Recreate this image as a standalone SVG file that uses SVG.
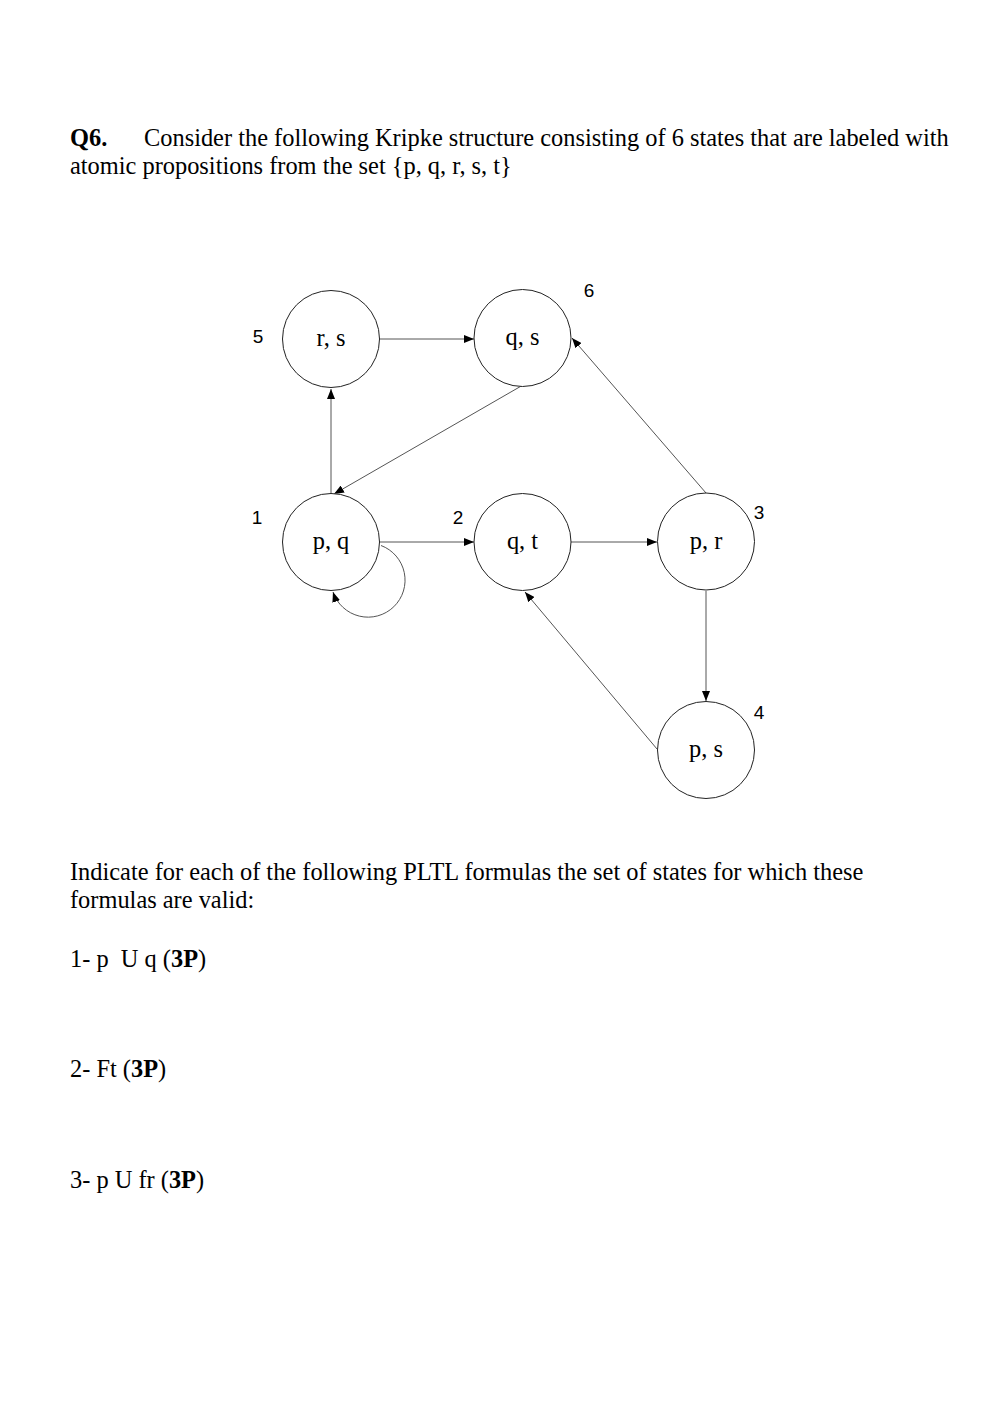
<svg xmlns="http://www.w3.org/2000/svg" width="994" height="1428" viewBox="0 0 994 1428">
<style>
.t{font-family:"Liberation Serif","Times New Roman",serif;font-size:24.4px;fill:#000}
.b{font-weight:bold}
.n{fill:#fff;stroke:#222;stroke-width:1}
.nl{font-family:"Liberation Serif","Times New Roman",serif;font-size:24.4px;fill:#000;text-anchor:middle}
.id{font-family:"Liberation Sans",Arial,sans-serif;font-size:19px;fill:#000;text-anchor:middle}
.e{fill:none;stroke:#555;stroke-width:1;marker-end:url(#ah)}
</style>
<defs>
<marker id="ah" viewBox="0 0 10 8" refX="10" refY="4" markerWidth="10" markerHeight="8" markerUnits="userSpaceOnUse" orient="auto">
<path d="M0,0 L10,4 L0,8 Z" fill="#000"/>
</marker>
</defs>
<rect width="994" height="1428" fill="#fff"/>
<g id="title">
<text class="t" x="70" y="146"><tspan class="b">Q6.</tspan><tspan x="144">Consider the following Kripke structure consisting of 6 states that are labeled with</tspan></text>
<text class="t" x="70" y="174">atomic propositions from the set {p, q, r, s, t}</text>
</g>
<g id="connectors">
<line class="e" x1="380" y1="339" x2="474" y2="339"/>
<line class="e" x1="331" y1="494" x2="331" y2="389"/>
<line class="e" x1="523" y1="385" x2="334" y2="494"/>
<line class="e" x1="706" y1="493" x2="572" y2="338"/>
<line class="e" x1="380" y1="542" x2="474" y2="542"/>
<line class="e" x1="571" y1="542" x2="657" y2="542"/>
<line class="e" x1="706" y1="591" x2="706" y2="701"/>
<line class="e" x1="657" y1="749" x2="525" y2="592"/>
<path class="e" d="M381,545.5 A37,37 0 1 1 333,592"/>
</g>
<g id="s5"><circle class="n" cx="331" cy="339" r="48.5"/><text class="nl" x="331" y="346">r, s</text><text class="id" x="258" y="343">5</text></g>
<g id="s6"><circle class="n" cx="522.5" cy="338" r="48.5"/><text class="nl" x="522.5" y="345">q, s</text><text class="id" x="589" y="297">6</text></g>
<g id="s1"><circle class="n" cx="331" cy="542" r="48.5"/><text class="nl" x="331" y="549">p, q</text><text class="id" x="257" y="524">1</text></g>
<g id="s2"><circle class="n" cx="522.5" cy="542" r="48.5"/><text class="nl" x="522.5" y="549">q, t</text><text class="id" x="458" y="524">2</text></g>
<g id="s3"><circle class="n" cx="706" cy="541.5" r="48.5"/><text class="nl" x="706" y="549">p, r</text><text class="id" x="759" y="519">3</text></g>
<g id="s4"><circle class="n" cx="706" cy="750" r="48.5"/><text class="nl" x="706" y="757">p, s</text><text class="id" x="759" y="719">4</text></g>
<g id="questions">
<text class="t" x="70" y="880">Indicate for each of the following PLTL formulas the set of states for which these</text>
<text class="t" x="70" y="908">formulas are valid:</text>
<text class="t" x="70" y="967" xml:space="preserve">1- p  U q (<tspan class="b">3P</tspan>)</text>
<text class="t" x="70" y="1077">2- Ft (<tspan class="b">3P</tspan>)</text>
<text class="t" x="70" y="1188">3- p U fr (<tspan class="b">3P</tspan>)</text>
</g>
</svg>
